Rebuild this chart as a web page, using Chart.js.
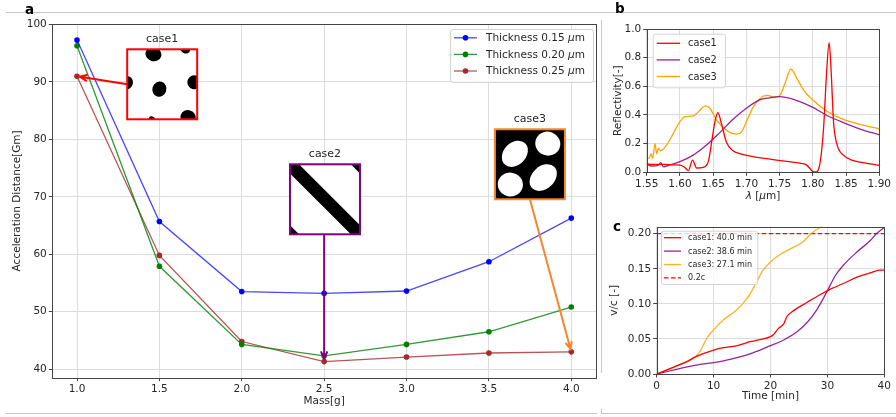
<!DOCTYPE html>
<html>
<head>
<meta charset="utf-8">
<script src="https://cdn.jsdelivr.net/npm/chart.js@4.4.1/dist/chart.umd.min.js"></script>
<style>
  body { margin: 0; background: #fff; }
  #fig { position: relative; width: 896px; height: 417px; overflow: hidden; }
  #fig canvas { position: absolute; }
  .rule { position: absolute; background: #c6c6c6; }
</style>
</head>
<body>
<div id="fig">
  <div class="rule" style="left:6px;top:12px;width:890px;height:1px"></div>
  <div class="rule" style="left:6px;top:413px;width:591px;height:1px"></div>
  <div class="rule" style="left:601px;top:413px;width:295px;height:1px"></div>
  <div class="rule" style="left:601px;top:20px;width:1px;height:353px"></div>
  <div class="rule" style="left:601px;top:409px;width:1px;height:5px"></div>
  <canvas id="massChart" width="600" height="417" style="left:0;top:0"></canvas>
  <canvas id="reflChart" width="296" height="205" style="left:600px;top:0"></canvas>
  <canvas id="speedChart" width="296" height="212" style="left:600px;top:205px"></canvas>
</div>
<script>
// panel a - acceleration distance vs sail mass
const massValues = [1.0, 1.5, 2.0, 2.5, 3.0, 3.5, 4.0];
const dist015 = [97.3, 65.7, 53.5, 53.2, 53.6, 58.7, 66.3];
const dist020 = [96.3, 57.9, 44.3, 42.3, 44.3, 46.5, 50.8];
const dist025 = [91.0, 59.8, 44.8, 41.3, 42.1, 42.8, 43.0];
const thicknessLabels = ['Thickness 0.15 μm', 'Thickness 0.20 μm', 'Thickness 0.25 μm'];
const massTicks = [1.0, 1.5, 2.0, 2.5, 3.0, 3.5, 4.0];
const distTicks = [40, 50, 60, 70, 80, 90, 100];

// panel b - reflectivity spectra
const caseLabels = ['case1', 'case2', 'case3'];
const lam1 = [1.55, 1.56, 1.575, 1.59, 1.60, 1.607, 1.6127, 1.619, 1.625, 1.635, 1.643, 1.648, 1.653, 1.657, 1.663, 1.67, 1.68, 1.69, 1.70, 1.73, 1.75, 1.78, 1.79, 1.796, 1.80, 1.804, 1.81, 1.816, 1.821, 1.8245, 1.8275, 1.831, 1.836, 1.846, 1.861, 1.881, 1.90];
const refl1 = [0.058, 0.055, 0.055, 0.052, 0.05, 0.035, 0.012, 0.085, 0.03, 0.035, 0.08, 0.22, 0.36, 0.416, 0.33, 0.21, 0.15, 0.13, 0.118, 0.095, 0.082, 0.064, 0.052, 0.025, 0.004, 0.002, 0.045, 0.3, 0.72, 0.905, 0.71, 0.36, 0.2, 0.12, 0.081, 0.063, 0.048];
const lam2 = [1.55, 1.5575, 1.5675, 1.571, 1.575, 1.585, 1.60, 1.62, 1.64, 1.66, 1.68, 1.70, 1.72, 1.735, 1.75, 1.771, 1.80, 1.82, 1.846, 1.871, 1.90];
const refl2 = [0.058, 0.044, 0.049, 0.067, 0.038, 0.051, 0.074, 0.12, 0.19, 0.277, 0.37, 0.447, 0.505, 0.52, 0.528, 0.509, 0.453, 0.40, 0.347, 0.302, 0.262];
const lam3 = [1.55, 1.554, 1.5565, 1.559, 1.5625, 1.565, 1.5675, 1.571, 1.58, 1.59, 1.60, 1.608, 1.62, 1.628, 1.638, 1.645, 1.655, 1.665, 1.675, 1.685, 1.693, 1.70, 1.71, 1.72, 1.731, 1.743, 1.751, 1.758, 1.767, 1.776, 1.786, 1.80, 1.82, 1.846, 1.871, 1.90];
const refl3 = [0.098, 0.1, 0.13, 0.098, 0.2, 0.128, 0.167, 0.15, 0.19, 0.27, 0.353, 0.388, 0.393, 0.423, 0.463, 0.447, 0.365, 0.314, 0.279, 0.267, 0.284, 0.353, 0.453, 0.514, 0.537, 0.523, 0.54, 0.62, 0.719, 0.656, 0.574, 0.505, 0.43, 0.37, 0.335, 0.303];
const lamTicks = [1.55, 1.60, 1.65, 1.70, 1.75, 1.80, 1.85, 1.90];
const reflTicks = [0, 0.2, 0.4, 0.6, 0.8, 1.0];

// panel c - speed vs time
const timeLabels = ['case1: 40.0 min', 'case2: 38.6 min', 'case3: 27.1 min', '0.2c'];
const t1 = [0, 3.2, 5.3, 7, 10, 11.7, 14, 15.2, 16.4, 18.1, 19.9, 20.5, 21.4, 22.3, 22.9, 24, 26.4, 28.7, 30.8, 32.8, 35.2, 37.5, 39.2, 40];
const v1 = [0, 0.0105, 0.0176, 0.025, 0.034, 0.0375, 0.040, 0.043, 0.046, 0.049, 0.053, 0.056, 0.065, 0.071, 0.082, 0.090, 0.102, 0.113, 0.122, 0.129, 0.138, 0.144, 0.148, 0.148];
const t2 = [0, 3.5, 7.6, 11.1, 14.1, 17, 19.9, 22.3, 24.6, 26.4, 28.1, 29.9, 31.3, 32.8, 35.2, 37.5, 38.6, 40];
const v2 = [0, 0.0067, 0.0138, 0.0176, 0.0233, 0.0304, 0.040, 0.0485, 0.060, 0.073, 0.091, 0.117, 0.139, 0.155, 0.174, 0.19, 0.2, 0.209];
const t3 = [0, 5.3, 6.7, 7.6, 8.8, 10, 11.7, 14, 15.2, 16.4, 17.6, 18.7, 19.9, 21.6, 23.4, 25.8, 27.1, 29.5];
const v3 = [0, 0.0176, 0.024, 0.032, 0.051, 0.063, 0.077, 0.091, 0.101, 0.114, 0.132, 0.148, 0.159, 0.170, 0.178, 0.189, 0.2, 0.213];
const targetSpeed = 0.2;
const timeTicks = [0, 10, 20, 30, 40];
const speedTicks = [0, 0.05, 0.10, 0.15, 0.20];

const FONT = '"DejaVu Sans", sans-serif';
const INK = '#262626';

Chart.defaults.font.family = FONT;
Chart.defaults.font.size = 10.5;
Chart.defaults.color = INK;
Chart.defaults.animation = false;
Chart.defaults.events = [];
Chart.defaults.plugins.legend.display = false;
Chart.defaults.plugins.tooltip.enabled = false;

const pts = (xs, ys) => xs.map((x, i) => ({x: x, y: ys[i]}));

// greek letters in italic, like matplotlib mathtext
function drawText(ctx, str, x, y, size, align) {
  const parts = str.split(/([μλ])/).filter(Boolean);
  const fontOf = p => (p === 'μ' || p === 'λ' ? 'italic ' : '') + size + 'px ' + FONT;
  let total = 0;
  parts.forEach(p => { ctx.font = fontOf(p); total += ctx.measureText(p).width; });
  let cx = align === 'center' ? x - total / 2 : x;
  ctx.textAlign = 'left';
  parts.forEach(p => {
    ctx.font = fontOf(p);
    ctx.fillText(p, cx, y);
    cx += ctx.measureText(p).width;
  });
}

function roundBox(ctx, x, y, w, h, r) {
  ctx.beginPath();
  ctx.moveTo(x + r, y);
  ctx.arcTo(x + w, y, x + w, y + h, r);
  ctx.arcTo(x + w, y + h, x, y + h, r);
  ctx.arcTo(x, y + h, x, y, r);
  ctx.arcTo(x, y, x + w, y, r);
  ctx.closePath();
}

function drawLegend(chart, box, o) {
  const ctx = chart.ctx;
  ctx.save();
  roundBox(ctx, box.x + 0.5, box.y + 0.5, box.w, box.h, 2.5);
  ctx.fillStyle = 'rgba(255,255,255,0.8)';
  ctx.fill();
  ctx.strokeStyle = '#d4d4d4';
  ctx.lineWidth = 1;
  ctx.stroke();
  chart.data.datasets.forEach((ds, i) => {
    const y = box.y + o.first + i * o.row;
    ctx.strokeStyle = ds.borderColor;
    ctx.lineWidth = ds.borderWidth;
    ctx.setLineDash(ds.borderDash || []);
    ctx.beginPath();
    ctx.moveTo(box.x + o.x0, y);
    ctx.lineTo(box.x + o.x1, y);
    ctx.stroke();
    ctx.setLineDash([]);
    if (ds.pointRadius) {
      ctx.fillStyle = ds.pointBackgroundColor;
      ctx.beginPath();
      ctx.arc(box.x + (o.x0 + o.x1) / 2, y, ds.pointRadius, 0, Math.PI * 2);
      ctx.fill();
    }
    ctx.fillStyle = INK;
    ctx.textBaseline = 'middle';
    drawText(ctx, ds.label, box.x + o.tx, y + 0.5, o.size, 'left');
  });
  ctx.restore();
}

function axis(min, max, ticks, digits, size, title, titlePad) {
  return {
    type: 'linear', min: min, max: max,
    afterBuildTicks: s => { s.ticks = ticks.map(v => ({value: v})); },
    afterFit: s => { if (s.isHorizontal()) s.height = size; else s.width = size; },
    ticks: { callback: v => Number(v).toFixed(digits), padding: 2, autoSkip: false, maxRotation: 0, color: INK },
    grid: { color: '#dcdcdc', lineWidth: 1, tickLength: 3.5, tickColor: '#444' },
    border: { display: false },
    title: title ? { display: true, text: title, color: INK, font: {size: 10.5}, padding: titlePad } : { display: false }
  };
}

// frame + panel letter, shared by the three charts
function panelPlugin(letter, lx, ly, extra) {
  return {
    id: 'panel' + letter,
    afterDatasetsDraw(chart) {
      const {ctx, chartArea: a} = chart;
      if (extra) extra(chart);
      ctx.save();
      ctx.strokeStyle = '#444';
      ctx.lineWidth = 1;
      const l = Math.round(a.left) + 0.5, t = Math.round(a.top) + 0.5;
      ctx.strokeRect(l, t, Math.round(a.right) - Math.round(a.left), Math.round(a.bottom) - Math.round(a.top));
      ctx.fillStyle = '#000';
      ctx.font = 'bold 13.5px ' + FONT;
      ctx.textBaseline = 'alphabetic';
      ctx.textAlign = 'left';
      ctx.fillText(letter, lx, ly);
      ctx.restore();
    }
  };
}

// ---------- inset patterns for panel a ----------
function patternCase1(ctx, x, y, s) {
  ctx.fillStyle = '#fff';
  ctx.fillRect(x, y, s, s);
  ctx.fillStyle = '#000';
  [[0.375, 0.07, 0.115, 0.1], [0.83, 0.0, 0.07, 0.06], [0.0, 0.48, 0.08, 0.095], [0.46, 0.57, 0.1, 0.11],
   [0.96, 0.47, 0.1, 0.1], [0.87, 0.97, 0.11, 0.1], [0.35, 1.0, 0.045, 0.04]].forEach(b => {
    ctx.beginPath();
    ctx.ellipse(x + b[0] * s, y + b[1] * s, b[2] * s, b[3] * s, 0.3, 0, Math.PI * 2);
    ctx.fill();
  });
}
function patternCase2(ctx, x, y, s) {
  ctx.fillStyle = '#fff';
  ctx.fillRect(x, y, s, s);
  ctx.strokeStyle = '#000';
  ctx.lineWidth = 0.26 * s / Math.SQRT2;
  [-1, 0, 1].forEach(k => {
    ctx.beginPath();
    ctx.moveTo(x + k * s - 0.2 * s, y - 0.2 * s);
    ctx.lineTo(x + k * s + 1.2 * s, y + 1.2 * s);
    ctx.stroke();
  });
}
function patternCase3(ctx, x, y, s) {
  ctx.fillStyle = '#000';
  ctx.fillRect(x, y, s, s);
  ctx.fillStyle = '#fff';
  [[0.285, 0.35, 0.21, 0.16, -0.8], [0.755, 0.205, 0.18, 0.17, 0.4], [0.22, 0.79, 0.18, 0.17, 0.2], [0.69, 0.69, 0.22, 0.16, -0.75]].forEach(b => {
    ctx.beginPath();
    ctx.ellipse(x + b[0] * s, y + b[1] * s, b[2] * s, b[3] * s, b[4], 0, Math.PI * 2);
    ctx.fill();
  });
}

function arrow(ctx, x0, y0, x1, y1, color) {
  const ang = Math.atan2(y1 - y0, x1 - x0);
  const tx = x1 - 3 * Math.cos(ang), ty = y1 - 3 * Math.sin(ang);
  const L = 8, sp = 0.42;
  ctx.strokeStyle = color;
  ctx.lineWidth = 2;
  ctx.beginPath();
  ctx.moveTo(x0, y0);
  ctx.lineTo(tx, ty);
  ctx.moveTo(tx - L * Math.cos(ang - sp), ty - L * Math.sin(ang - sp));
  ctx.lineTo(tx, ty);
  ctx.lineTo(tx - L * Math.cos(ang + sp), ty - L * Math.sin(ang + sp));
  ctx.stroke();
}

const insets = [
  {name: 'case1', cx: 1.517, cy: 89.6, color: '#ff0000', from: 'left', target: [massValues[0], dist025[0]], draw: patternCase1},
  {name: 'case2', cx: 2.505, cy: 69.57, color: '#800080', from: 'bottom', target: [massValues[3], dist025[3]], draw: patternCase2},
  {name: 'case3', cx: 3.749, cy: 75.67, color: '#f5862e', from: 'bottom', target: [massValues[6], dist025[6]], draw: patternCase3}
];

function drawInsets(chart) {
  const {ctx, scales: {x: xs, y: ys}} = chart;
  const s = 70;
  ctx.save();
  insets.forEach(ins => {
    const cx = xs.getPixelForValue(ins.cx), cy = ys.getPixelForValue(ins.cy);
    const bx = cx - s / 2, by = cy - s / 2;
    const tx = xs.getPixelForValue(ins.target[0]), ty = ys.getPixelForValue(ins.target[1]);
    const sx = ins.from === 'left' ? bx : (Math.abs(tx - cx) < 3 ? tx : cx);
    const sy = ins.from === 'left' ? cy : by + s;
    arrow(ctx, sx, sy, tx, ty, ins.color);
    ctx.save();
    ctx.beginPath();
    ctx.rect(bx, by, s, s);
    ctx.clip();
    ins.draw(ctx, bx, by, s);
    ctx.restore();
    ctx.strokeStyle = ins.color;
    ctx.lineWidth = 2;
    ctx.strokeRect(bx, by, s, s);
    ctx.fillStyle = INK;
    ctx.textBaseline = 'middle';
    drawText(ctx, ins.name, cx, by - 10, 11, 'center');
  });
  ctx.restore();
  drawLegend(chart, {x: 450, y: 29, w: 143, h: 53}, {first: 8.8, row: 16.6, x0: 4, x1: 27, tx: 36, size: 10.5});
}

const lineStyle = (label, color, pointColor, xs, ys) => ({
  label: label, data: pts(xs, ys), borderColor: color, borderWidth: 1.3,
  pointRadius: 2.8, pointBackgroundColor: pointColor, pointBorderWidth: 0, tension: 0
});

new Chart(document.getElementById('massChart'), {
  type: 'line',
  data: {
    datasets: [
      lineStyle(thicknessLabels[0], 'rgba(0,0,255,0.72)', '#0000ff', massValues, dist015),
      lineStyle(thicknessLabels[1], 'rgba(0,128,0,0.8)', '#008000', massValues, dist020),
      lineStyle(thicknessLabels[2], 'rgba(165,42,42,0.8)', '#a52a2a', massValues, dist025)
    ]
  },
  options: {
    responsive: false,
    layout: { padding: {left: 0, top: 24, right: 0.7, bottom: 0} },
    scales: {
      x: axis(0.85, 4.15, massTicks, 1, 39.3, 'Mass[g]', {top: 0, bottom: 9.7}),
      y: axis(38.5, 100.1, distTicks, 0, 52.3, 'Acceleration Distance[Gm]', {top: 10.7, bottom: 0})
    }
  },
  plugins: [panelPlugin('a', 25, 14, drawInsets)]
});

// ---------- panel b ----------
const curve = (label, color, xs, ys) => ({
  label: label, data: pts(xs, ys), borderColor: color, borderWidth: 1.3,
  pointRadius: 0, cubicInterpolationMode: 'monotone'
});

new Chart(document.getElementById('reflChart'), {
  type: 'line',
  data: {
    datasets: [
      curve(caseLabels[0], '#ff0000', lam1, refl1),
      curve(caseLabels[1], 'rgba(128,0,128,0.85)', lam2, refl2),
      curve(caseLabels[2], '#ffa500', lam3, refl3)
    ]
  },
  options: {
    responsive: false,
    layout: { padding: {left: 0, top: 29, right: 16.7, bottom: 0} },
    scales: {
      x: axis(1.55, 1.90, lamTicks, 2, 32.7, null),
      y: axis(0, 1.0, reflTicks, 1, 46.7, 'Reflectivity[-]', {top: 11.7, bottom: 0})
    }
  },
  plugins: [panelPlugin('b', 15, 13.3, chart => {
    const {ctx, chartArea: a} = chart;
    ctx.save();
    ctx.fillStyle = INK;
    ctx.textBaseline = 'middle';
    drawText(ctx, 'λ [μm]', (a.left + a.right) / 2, 196, 10.5, 'center');
    ctx.restore();
    drawLegend(chart, {x: 52.7, y: 33.7, w: 72.3, h: 53.6}, {first: 9.6, row: 16.6, x0: 4, x1: 27.3, tx: 35.3, size: 9.8});
  })]
});

// ---------- panel c ----------
const speedSets = [
  curve(timeLabels[0], '#ff0000', t1, v1),
  curve(timeLabels[1], 'rgba(128,0,128,0.85)', t2, v2),
  curve(timeLabels[2], 'rgba(255,165,0,0.85)', t3, v3),
  { label: timeLabels[3], data: pts([timeTicks[0], timeTicks[timeTicks.length - 1]], [targetSpeed, targetSpeed]),
    borderColor: '#ff0000', borderWidth: 1.2, borderDash: [4.5, 2.5], pointRadius: 0 }
];

new Chart(document.getElementById('speedChart'), {
  type: 'line',
  data: { datasets: speedSets },
  options: {
    responsive: false,
    layout: { padding: {left: 0, top: 21.7, right: 11.7, bottom: 0} },
    scales: {
      x: axis(0, 40, timeTicks, 0, 43, 'Time [min]', {top: 0, bottom: 14}),
      y: axis(0, 0.21, speedTicks, 2, 56.7, 'v/c [-]', {top: 7.7, bottom: 0})
    }
  },
  plugins: [panelPlugin('c', 13, 26, chart => {
    drawLegend(chart, {x: 61, y: 25.7, w: 96.3, h: 53.3}, {first: 7, row: 13.4, x0: 3, x1: 20, tx: 27, size: 8});
  })]
});
</script>
</body>
</html>
